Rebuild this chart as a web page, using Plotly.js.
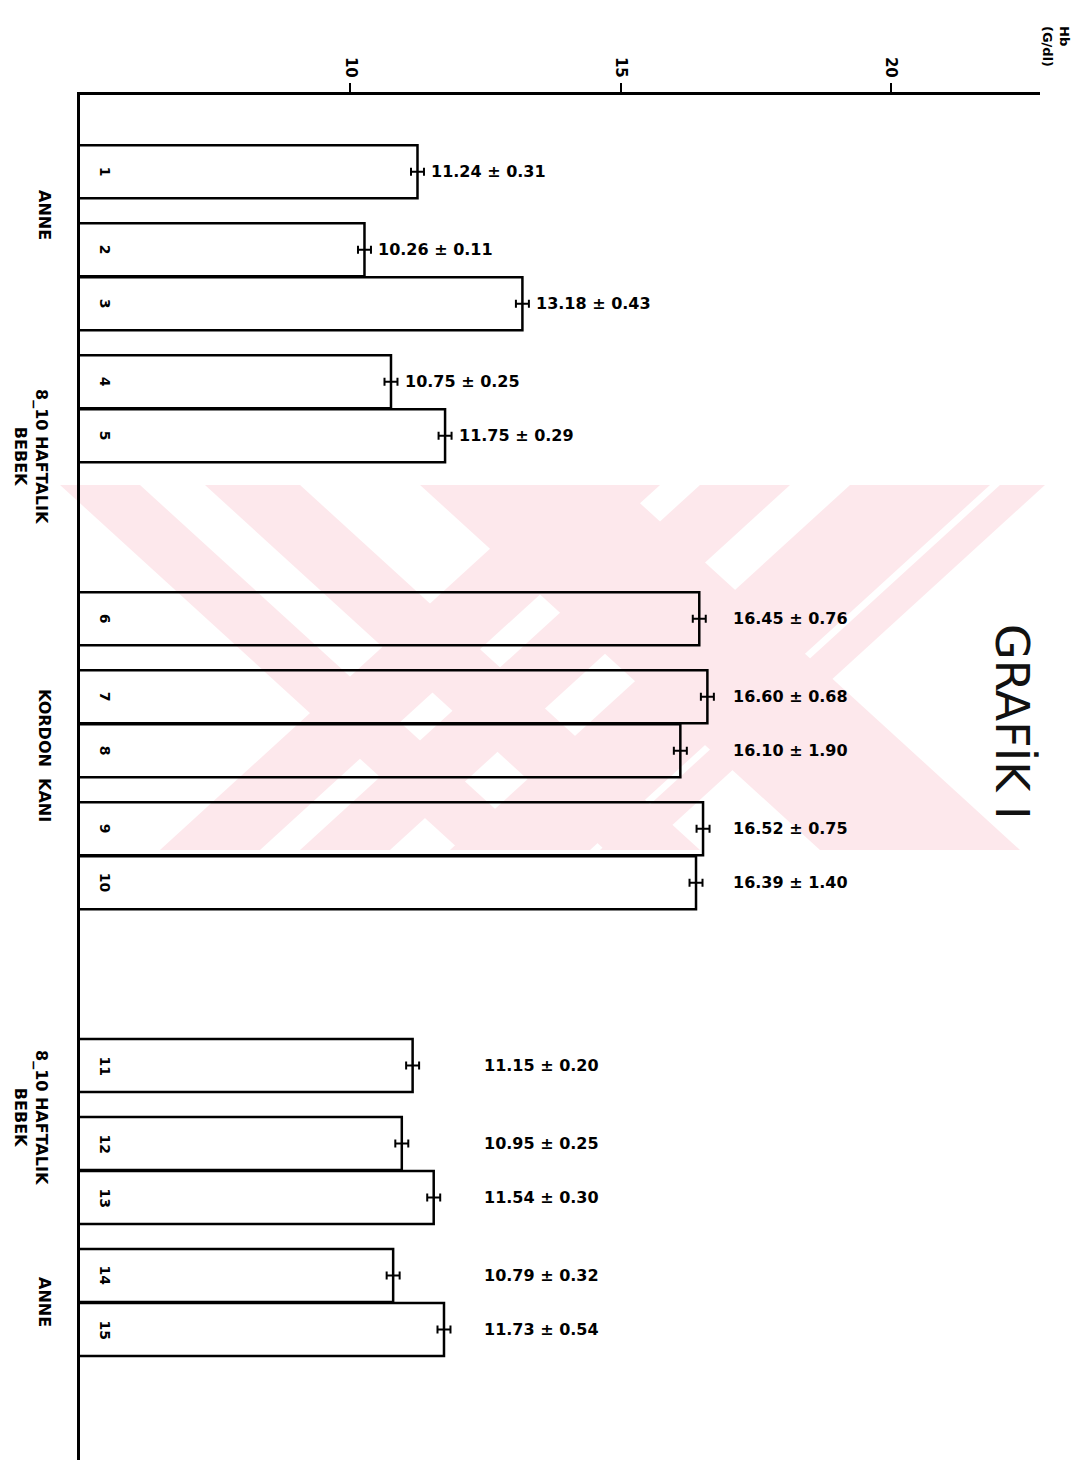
<!DOCTYPE html>
<html>
<head>
<meta charset="utf-8">
<script src="https://cdn.plot.ly/plotly-3.0.1.min.js"></script>
<style>html,body{margin:0;padding:0;background:#fff;}#chart{width:1084px;height:1463px;}</style>
</head>
<body>
<div id="chart"></div>
<script>
// ---- data ----
const barNumbers = ['1','2','3','4','5','6','7','8','9','10','11','12','13','14','15'];
const hbMean = [11.24, 10.26, 13.18, 10.75, 11.75, 16.45, 16.60, 16.10, 16.52, 16.39, 11.15, 10.95, 11.54, 10.79, 11.73];
const hbSD   = [0.31, 0.11, 0.43, 0.25, 0.29, 0.76, 0.68, 1.90, 0.75, 1.40, 0.20, 0.25, 0.30, 0.32, 0.54];
const subgroupSizes = [1, 2, 2, 1, 2, 2, 1, 2, 2];
const groupNames = ['ANNE', '8_10 HAFTALIK<br>BEBEK', 'KORDON  KANI', '8_10 HAFTALIK<br>BEBEK', 'ANNE'];
const tickValues = [10, 15, 20];
const tickLabels = ['10', '15', '20'];
const chartTitle = 'GRAFİK I';
const unitLabel = 'Hb<br>(G/dl)';

// ---- layout helpers ----
const W = 1084, H = 1463;
const M = {l: 80, r: 44, t: 95, b: 3};
const PW = W - M.l - M.r, PH = H - M.t - M.b;
const px2x = px => (px - M.l) / PW;
const px2y = py => 1 - (py - M.t) / PH;

// slot positions of bars along the category axis
const slotPos = [];
(function(){
  let p = 1.45;
  subgroupSizes.forEach((n, si) => {
    for (let k = 0; k < n; k++) {
      if (si > 0 && k === 0) p += (si === 3 || si === 6) ? 3.45 : 1.47;
      else if (k > 0) p += 1.02;
      slotPos.push(p);
    }
  });
})();

const valueLabels = hbMean.map((m, i) => m.toFixed(2) + ' ± ' + hbSD[i].toFixed(2));

const FONT = 'DejaVu Sans, Liberation Sans, sans-serif';

const trace = {
  type: 'bar',
  orientation: 'h',
  x: hbMean,
  y: slotPos,
  width: 1.0,
  marker: {color: 'rgba(0,0,0,0)', line: {color: '#000', width: 2.5}},
  error_x: {type: 'constant', value: 0.12, thickness: 2, width: 4, color: '#000'},
  hoverinfo: 'skip',
  showlegend: false
};

const annotations = [];
// bar numbers inside the bars
barNumbers.forEach((b, i) => {
  annotations.push({
    xref: 'paper', yref: 'y', x: px2x(105), y: slotPos[i], xanchor: 'center', yanchor: 'middle',
    text: b, showarrow: false, textangle: 90,
    font: {family: FONT, size: 14, color: '#000', weight: 'bold'}
  });
});
// value labels
valueLabels.forEach((t, i) => {
  const a = {yref: 'y', y: slotPos[i], text: t, showarrow: false, xanchor: 'left', yanchor: 'middle',
             font: {family: FONT, size: 16, color: '#000', weight: 'bold'}};
  if (i < 5) { a.xref = 'x'; a.x = hbMean[i]; a.xshift = 12; }
  else if (i < 10) { a.xref = 'paper'; a.x = px2x(731); }
  else { a.xref = 'paper'; a.x = px2x(482); }
  annotations.push(a);
});
// group labels at the left
const groupAt = [[45, 215], [31, 456], [45, 755], [31, 1117], [45, 1302]];
groupNames.forEach((g, i) => {
  annotations.push({
    xref: 'paper', yref: 'paper', x: px2x(groupAt[i][0]), y: px2y(groupAt[i][1]),
    xanchor: 'center', yanchor: 'middle',
    text: g, showarrow: false, textangle: 90,
    font: {family: FONT, size: 16, color: '#000', weight: 'bold'}
  });
});
// title
annotations.push({
  xref: 'paper', yref: 'paper', x: px2x(1012), y: px2y(722), xanchor: 'center', yanchor: 'middle',
  text: chartTitle, showarrow: false, textangle: 90,
  font: {family: FONT, size: 46, color: '#111'}
});
// unit label
annotations.push({
  xref: 'paper', yref: 'paper', x: px2x(1056), y: px2y(46), xanchor: 'center', yanchor: 'middle',
  text: unitLabel, showarrow: false, textangle: 90, align: 'left',
  font: {family: FONT, size: 13, color: '#000', weight: 'bold'}
});

// faint watermark: crossing diagonal pink stripes
const y0 = 485, y1 = 850;
const stripes = [
  // [top-left x, top-right x, horizontal shift over the height]
  [60, 140, 400], [205, 300, 400], [420, 620, 400],
  [560, 660, -400], [700, 790, -400], [850, 990, -400], [1000, 1045, -400]
];
function stripePath(s) {
  const pts = [[s[0], y0], [s[1], y0], [Math.min(s[1] + s[2], 1045), y1], [s[0] + s[2], y1]];
  return 'M ' + pts.map(p => px2x(p[0]).toFixed(4) + ',' + px2y(p[1]).toFixed(4)).join(' L ') + ' Z';
}
const shapes = stripes.map(s => ({
  type: 'path', xref: 'paper', yref: 'paper', path: stripePath(s),
  fillcolor: '#fde8ec', line: {width: 0}, layer: 'below'
}));

const layout = {
  width: W, height: H,
  margin: M,
  paper_bgcolor: '#fff', plot_bgcolor: 'rgba(0,0,0,0)',
  font: {family: FONT, color: '#000'},
  xaxis: {
    side: 'top', range: [5, 22.75], showline: true, linewidth: 3, linecolor: '#000',
    ticks: 'outside', ticklen: 9, tickwidth: 2, tickcolor: '#000',
    tickvals: tickValues, ticktext: tickLabels, tickangle: 90,
    tickfont: {family: FONT, size: 15, color: '#000', weight: 'bold'},
    showgrid: false, zeroline: false, fixedrange: true
  },
  yaxis: {
    range: [25.75, 0], showline: true, linewidth: 3, linecolor: '#000',
    ticks: '', showticklabels: false, showgrid: false, zeroline: false, fixedrange: true
  },
  annotations: annotations,
  shapes: shapes,
  bargap: 0
};

Plotly.newPlot('chart', [trace], layout, {staticPlot: true, displayModeBar: false});
</script>
</body>
</html>
